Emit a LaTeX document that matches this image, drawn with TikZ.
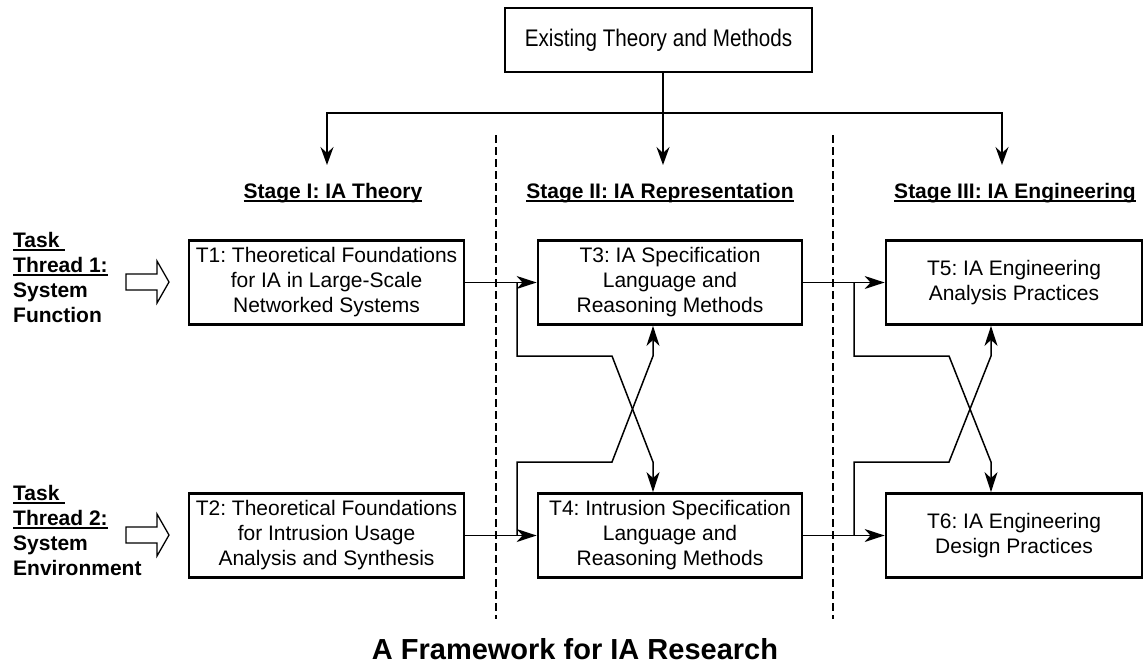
\documentclass[tikz,border=0pt]{standalone}
\usepackage{graphicx}
\usepackage{fontspec}
\setmainfont{Liberation Sans}
\usetikzlibrary{arrows.meta}
\frenchspacing
\newcommand{\myuline}[1]{\setbox0=\hbox{#1}\rlap{\vrule height -2.4pt depth 4.4pt width \wd0}\box0}
\begin{document}
\begin{tikzpicture}[x=1pt,y=-1pt,
  taskbox/.style={draw, line width=2.8pt, align=center, inner sep=0pt,
    minimum height=84pt, font=\fontsize{21}{25}\selectfont\frenchspacing},
  conn/.style={line width=1.5pt, -{Stealth[length=20pt,width=13pt,inset=6pt]}},
  conntwo/.style={line width=1.5pt, {Stealth[length=18pt,width=13pt,inset=6pt]}-{Stealth[length=18pt,width=13pt,inset=6pt]}},
  connone/.style={line width=1.5pt, -{Stealth[length=18pt,width=13pt,inset=6pt]}},
  divider/.style={line width=1.9pt, dash pattern=on 8pt off 4pt},
  stagelbl/.style={font=\bfseries\fontsize{21}{25}\selectfont\frenchspacing, anchor=base, inner sep=0pt},
  threadlbl/.style={font=\bfseries\fontsize{21}{25}\selectfont, anchor=base west, inner sep=0pt},
  hollow/.style={draw, line width=1.3pt, fill=white, line join=miter},
]
\useasboundingbox (0,0) rectangle (1146,664);

% source box
\node[draw, line width=1.3pt, minimum width=307pt, minimum height=64pt, inner sep=0pt] (src) at (658.5,40)
  {\scalebox{0.86}[1]{\fontsize{24}{28}\selectfont Existing Theory and Methods}};

\coordinate (hub) at (663,113);
\coordinate (s1) at (327,165);
\coordinate (s2) at (663,165);
\coordinate (s3) at (1002,165);
\draw[connone] (src.south -| hub) -- (s2);
\draw[conntwo] (s1) |- (hub) -| (s3);

% dividers
\draw[divider] (496,135) -- (496,619);
\draw[divider] (833,135) -- (833,619);

% stage headings
\node[stagelbl] (st1) at (333,198) {\myuline{Stage I: IA Theory}};
\node[stagelbl] (st2) at (660,198) {\myuline{Stage II: IA Representation}};
\node[stagelbl] (st3) at (1015,198) {\myuline{Stage III: IA Engineering}};

% thread labels
\node[threadlbl] (ta1) at (13,247) {\myuline{Task\ }};
\node[threadlbl] (tb1) at (13,272) {\myuline{Thread 1:}};
\node[threadlbl] (tc1) at (13,297) {System};
\node[threadlbl] (td1) at (13,322) {Function};
\node[threadlbl] (ta2) at (13,500) {\myuline{Task\ }};
\node[threadlbl] (tb2) at (13,525) {\myuline{Thread 2:}};
\node[threadlbl] (tc2) at (13,550) {System};
\node[threadlbl] (td2) at (13,575) {Environment};

% hollow block arrows
\draw[hollow] (126,274) -- (157,274) -- (157,261) -- (169,282) -- (157,303) -- (157,290) -- (126,290) -- cycle;
\draw[hollow] (126,527) -- (157,527) -- (157,514) -- (169,535) -- (157,556) -- (157,543) -- (126,543) -- cycle;

% task boxes
\node[taskbox, minimum width=275pt] (T1) at (326.5,282.5) {T1: Theoretical Foundations\\for IA in Large-Scale\\Networked Systems};
\node[taskbox, minimum width=275pt] (T2) at (326.5,535.5) {T2: Theoretical Foundations\\for Intrusion Usage\\Analysis and Synthesis};
\node[taskbox, minimum width=264pt] (T3) at (670,282.5) {T3: IA Specification\\Language and\\Reasoning Methods};
\node[taskbox, minimum width=264pt] (T4) at (670,535.5) {T4: Intrusion Specification\\Language and\\Reasoning Methods};
\node[taskbox, minimum width=256pt] (T5) at (1014,282.5) {T5: IA Engineering\\Analysis Practices};
\node[taskbox, minimum width=256pt] (T6) at (1014,535.5) {T6: IA Engineering\\Design Practices};

% connectors stage I -> II
\draw[conn] (T1.east) -- (T3.west);
\draw[conn] (T2.east) -- (T4.west);
\coordinate (jA) at (517,282.5);
\coordinate (jB) at (517,535.5);
\coordinate (kA) at (612,356);
\coordinate (kB) at (612,462);
\coordinate (dA) at (653,462);
\coordinate (dB) at (653,356);
\draw[conn] (jA) |- (kA) -- (dA) -- (T4.north -| dA);
\draw[conn] (jB) |- (kB) -- (dB) -- (T3.south -| dB);

% connectors stage II -> III
\draw[conn] (T3.east) -- (T5.west);
\draw[conn] (T4.east) -- (T6.west);
\coordinate (jC) at (854,282.5);
\coordinate (jD) at (854,535.5);
\coordinate (kC) at (949,356);
\coordinate (kD) at (949,462);
\coordinate (dC) at (991,462);
\coordinate (dD) at (991,356);
\draw[conn] (jC) |- (kC) -- (dC) -- (T6.north -| dC);
\draw[conn] (jD) |- (kD) -- (dD) -- (T5.south -| dD);

% title
\node[font=\bfseries\fontsize{29}{34}\selectfont, anchor=base, inner sep=0pt] (title) at (575,659) {A Framework for IA Research};
\end{tikzpicture}
\end{document}
